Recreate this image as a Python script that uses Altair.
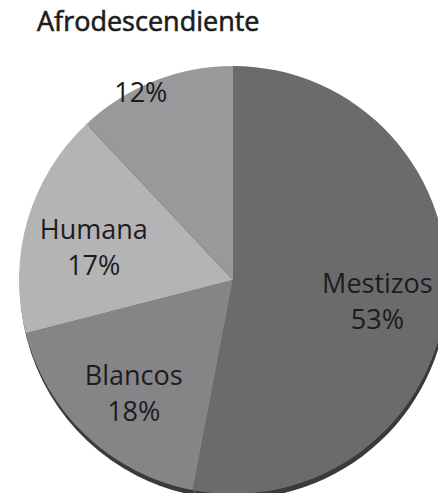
import altair as alt
import pandas as pd

title_text = "Afrodescendiente"
names = ["Mestizos", "Blancos", "Humana", ""]
pcts = [53, 18, 17, 12]
colors = ["#6b6b6d", "#858587", "#b4b4b6", "#99999b"]

df = pd.DataFrame({"name": names, "pct": pcts, "idx": list(range(len(names)))})
df["key"] = [n if n else "Afro" for n in names]
keys = list(df["key"])

CX, CY = 233 - 8, 280 - 8
R = 214
FONT = "Open Sans"

theta_scale = alt.Scale(domain=[0, 100], range=[0, 6.283185307179586])

base = alt.Chart(df).transform_stack(
    stack="pct", groupby=[], as_=["a0", "a1"], sort=[alt.SortField("idx", order="ascending")]
).transform_calculate(
    mid="(datum.a0 + datum.a1) / 2",
    label="datum.name ? datum.name + '\\n' + datum.pct + '%' : datum.pct + '%'",
)

shadow = base.mark_arc(color="#3a3a3a", outerRadius=R).encode(
    theta=alt.Theta("a0:Q", scale=theta_scale),
    theta2="a1:Q",
    x=alt.value(CX + 1),
    y=alt.value(CY + 5),
)

pie = base.mark_arc(outerRadius=R).encode(
    theta=alt.Theta("a0:Q", scale=theta_scale),
    theta2="a1:Q",
    color=alt.Color("key:N", scale=alt.Scale(domain=keys, range=colors), legend=None),
    x=alt.value(CX),
    y=alt.value(CY),
)

named = base.transform_filter("datum.name != ''").mark_text(
    radius=145, font=FONT, fontSize=27, lineHeight=36, lineBreak="\n",
    color="#1c1c1c", align="center", baseline="middle", dy=-9,
).encode(
    theta=alt.Theta("mid:Q", scale=theta_scale),
    text="label:N",
    x=alt.value(CX),
    y=alt.value(CY),
)

unnamed = base.transform_filter("datum.name == ''").mark_text(
    radius=207, font=FONT, fontSize=27, color="#1c1c1c",
    align="center", baseline="middle", dx=-16, dy=6,
).encode(
    theta=alt.Theta("mid:Q", scale=theta_scale),
    text="label:N",
    x=alt.value(CX),
    y=alt.value(CY),
)

title = alt.Chart(pd.DataFrame({"t": [title_text]})).mark_text(
    font=FONT, fontSize=27, color="#1c1c1c", stroke="#1c1c1c", strokeWidth=0.6,
    align="left", baseline="alphabetic",
).encode(text="t:N", x=alt.value(29), y=alt.value(23))

chart = alt.layer(shadow, pie, named, unnamed, title).properties(
    width=430,
    height=485,
    autosize=alt.AutoSizeParams(type="none"),
    padding=0,
).configure_view(stroke=None)

chart.save("out.html", embed_options={"renderer": "svg", "actions": False})
